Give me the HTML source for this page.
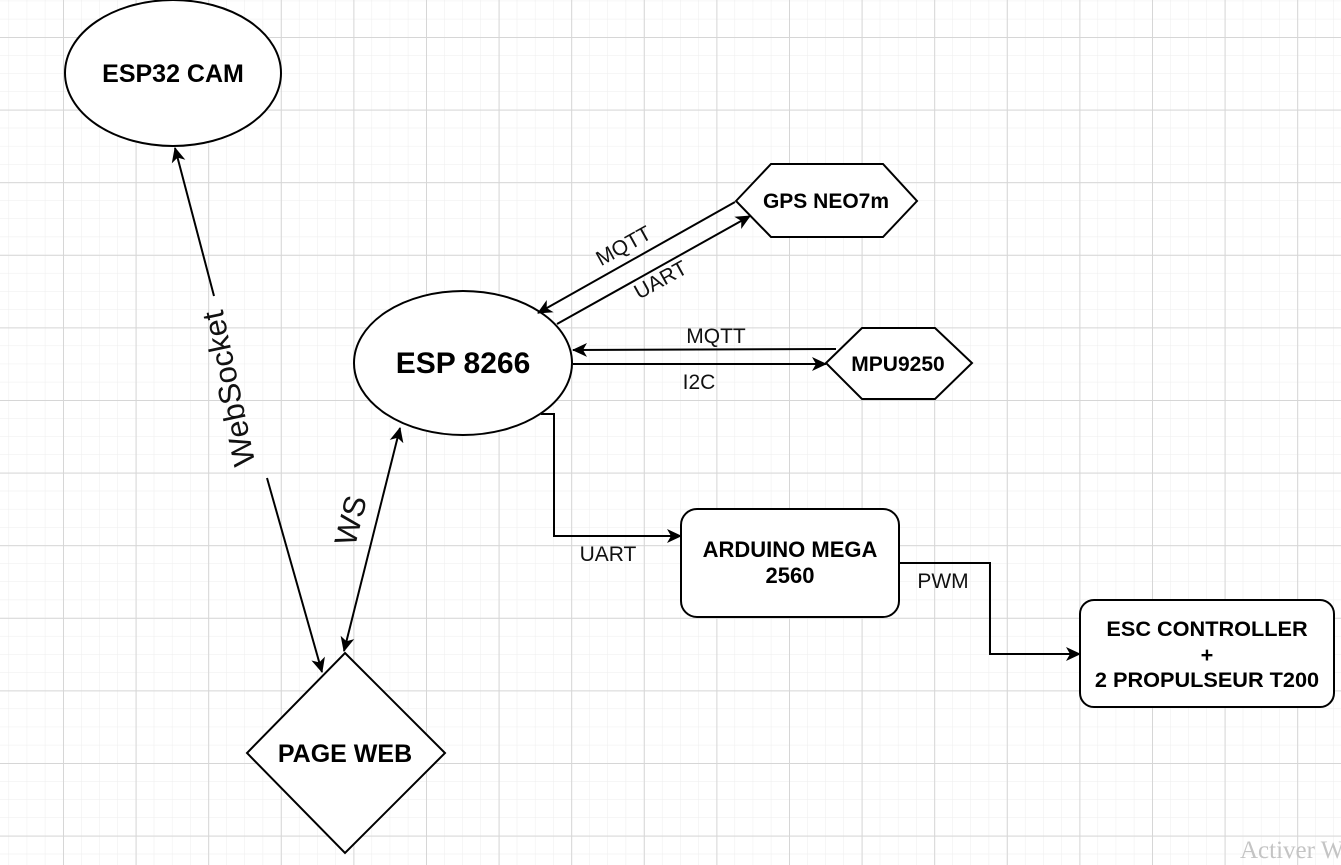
<!DOCTYPE html>
<html><head><meta charset="utf-8"><style>
html,body{margin:0;padding:0;background:#fff;width:1341px;height:865px;overflow:hidden}
svg{display:block}
text{font-family:"Liberation Sans",Arial,sans-serif}
.b{font-weight:bold;fill:#000}
.l{fill:#111;font-size:21px}
</style></head><body>
<svg width="1341" height="865" viewBox="0 0 1341 865" xmlns="http://www.w3.org/2000/svg">
<defs>
<pattern id="minor" x="63" y="37" width="18.15" height="18.15" patternUnits="userSpaceOnUse">
<path d="M0 0V18.15M0 0H18.15" stroke="#ededed" stroke-width="1" fill="none"/>
</pattern>
<pattern id="major" x="63" y="37" width="72.6" height="72.6" patternUnits="userSpaceOnUse">
<path d="M0.5 0V72.6M0 0.5H72.6" stroke="#d6d6d6" stroke-width="1" fill="none"/>
</pattern>
<marker id="ar" markerWidth="16" markerHeight="16" refX="14" refY="8" orient="auto" markerUnits="userSpaceOnUse">
<path d="M0 1 L15 8 L0 15 L4 8 Z" fill="#000"/>
</marker>
<marker id="as" markerWidth="16" markerHeight="16" refX="1" refY="8" orient="auto" markerUnits="userSpaceOnUse">
<path d="M15 1 L0 8 L15 15 L11 8 Z" fill="#000"/>
</marker>
</defs>
<rect width="1341" height="865" fill="#fff"/>
<rect width="1341" height="865" fill="url(#minor)"/>
<rect width="1341" height="865" fill="url(#major)"/>

<g stroke="#000" stroke-width="2" fill="#fff">
<ellipse cx="173" cy="73" rx="108" ry="73"/>
<ellipse cx="463" cy="363" rx="109" ry="72"/>
<polygon points="736,201 771,164 883,164 917,201 883,237 771,237"/>
<polygon points="826,363 862,328 935,328 972,363 935,399 862,399"/>
<polygon points="345,653 445,753 345,853 247,753"/>
<rect x="681" y="509" width="218" height="108" rx="16"/>
<rect x="1080" y="600" width="254" height="107" rx="14"/>
</g>

<g stroke="#000" stroke-width="2" fill="none">
<line x1="735" y1="202" x2="538" y2="313" marker-end="url(#ar)"/>
<line x1="557" y1="324" x2="750" y2="216" marker-end="url(#ar)"/>
<line x1="836" y1="349" x2="573" y2="350" marker-end="url(#ar)"/>
<line x1="573" y1="364" x2="826" y2="364" marker-end="url(#ar)"/>
<line x1="214" y1="296" x2="175" y2="148" marker-end="url(#ar)"/>
<line x1="267" y1="478" x2="322" y2="672" marker-end="url(#ar)"/>
<line x1="344" y1="651" x2="400" y2="428" marker-start="url(#as)" marker-end="url(#ar)"/>
<polyline points="541,414 554,414 554,536 681,536" marker-end="url(#ar)"/>
<polyline points="899,563 990,563 990,654 1080,654" marker-end="url(#ar)"/>
</g>

<text class="b" x="173" y="82" font-size="25" text-anchor="middle">ESP32 CAM</text>
<text class="b" x="463" y="373" font-size="30" text-anchor="middle">ESP 8266</text>
<text class="b" x="826" y="208" font-size="21" text-anchor="middle">GPS NEO7m</text>
<text class="b" x="898" y="371" font-size="21" text-anchor="middle">MPU9250</text>
<text class="b" x="345" y="762" font-size="25" text-anchor="middle">PAGE WEB</text>
<text class="b" x="790" y="557" font-size="22" text-anchor="middle">ARDUINO MEGA</text>
<text class="b" x="790" y="583" font-size="22" text-anchor="middle">2560</text>
<text class="b" x="1207" y="636" font-size="21.7" text-anchor="middle">ESC CONTROLLER</text>
<text class="b" x="1207" y="662" font-size="21.7" text-anchor="middle">+</text>
<text class="b" x="1207" y="687" font-size="21.7" text-anchor="middle">2 PROPULSEUR T200</text>

<text class="l" transform="translate(627,252) rotate(-29)" text-anchor="middle">MQTT</text>
<text class="l" transform="translate(664,286) rotate(-29)" text-anchor="middle">UART</text>
<text class="l" x="716" y="343" text-anchor="middle">MQTT</text>
<text class="l" x="699" y="389" text-anchor="middle">I2C</text>
<text class="l" x="608" y="561" text-anchor="middle">UART</text>
<text class="l" x="943" y="588" text-anchor="middle">PWM</text>
<text fill="#111" font-size="31" transform="translate(231,388) rotate(-102)" text-anchor="middle" dominant-baseline="middle">WebSocket</text>
<text fill="#111" font-size="31" transform="translate(353,521) rotate(-76)" text-anchor="middle" dominant-baseline="middle">WS</text>

<text x="1240" y="858" font-size="25" fill="#c4c4c4" style="font-family:'Liberation Serif',serif">Activer W</text>
</svg>
</body></html>
